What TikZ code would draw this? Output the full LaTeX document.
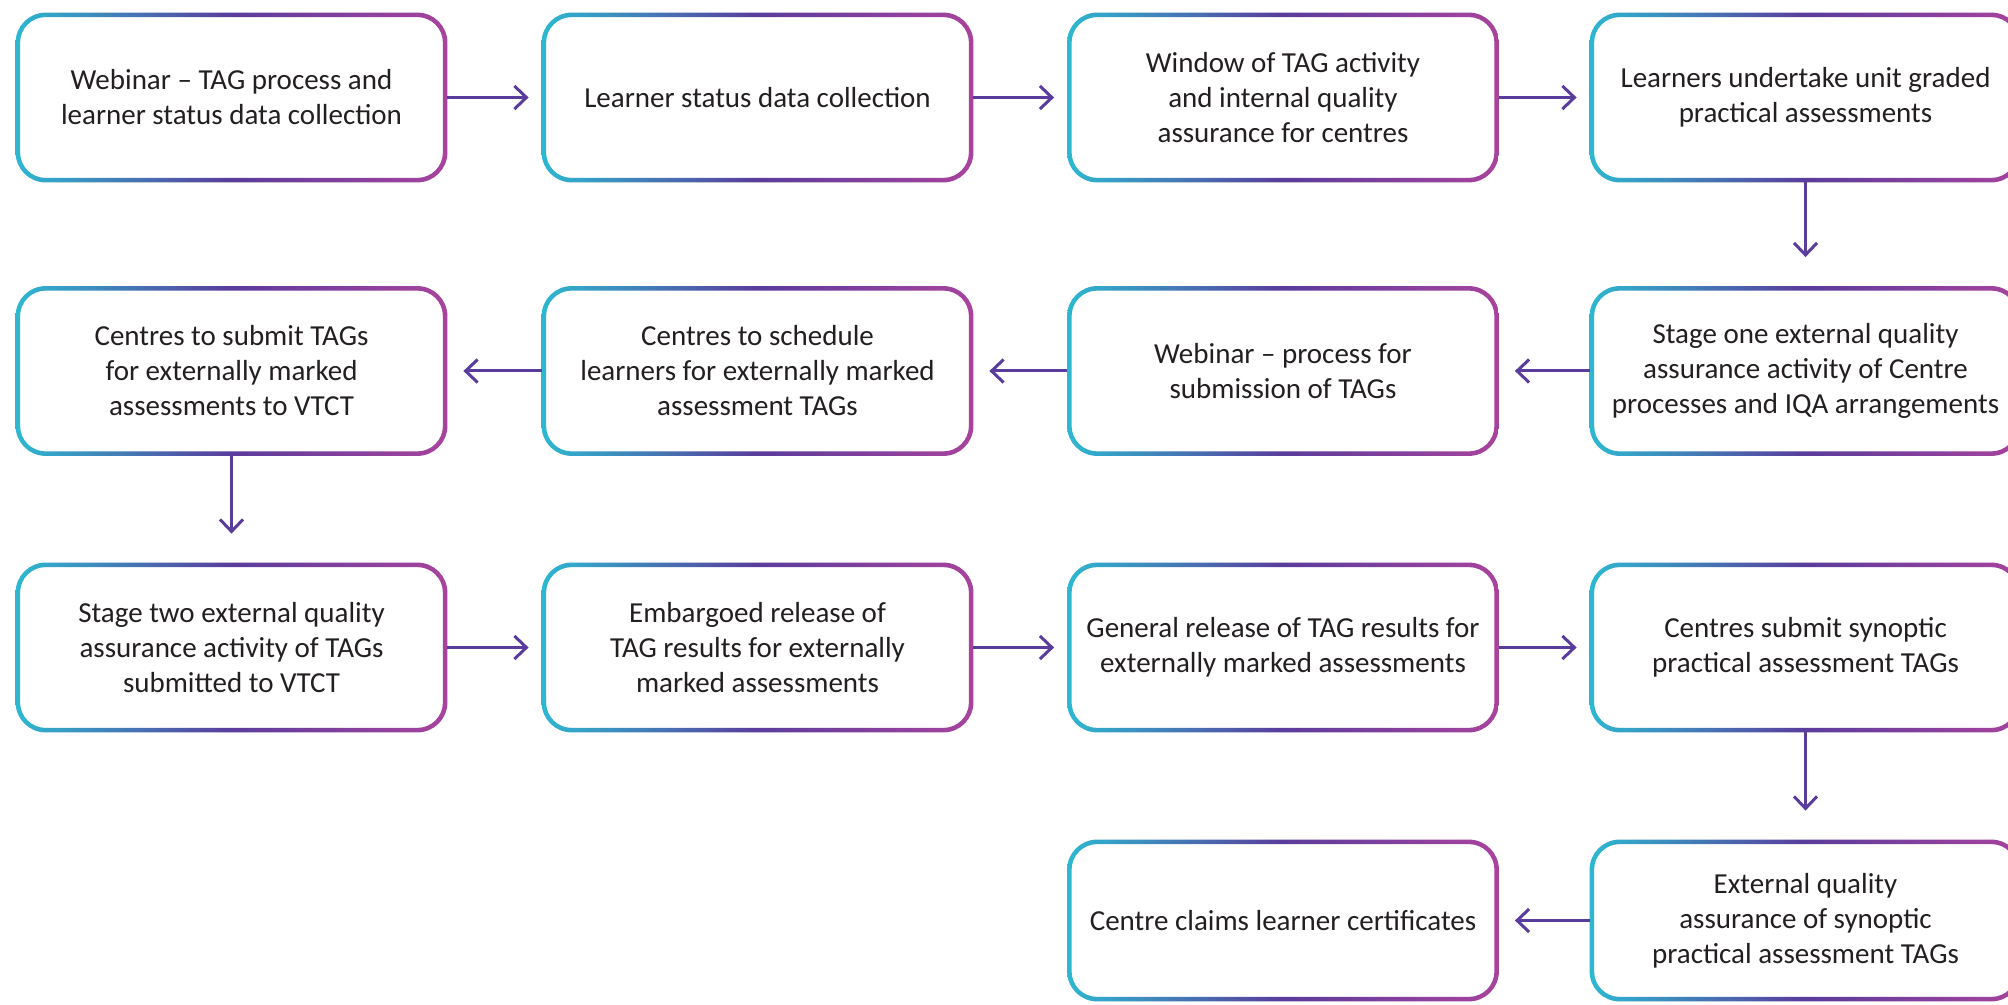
\documentclass[tikz,border=0pt]{standalone}
\usepackage{fontspec}
\setmainfont{Carlito}
\usetikzlibrary{arrows.meta,calc}
\definecolor{gcyan}{HTML}{2DB8D0}
\definecolor{gpurple}{HTML}{5A3C9C}
\definecolor{gmagenta}{HTML}{A8439D}
\definecolor{arrowc}{HTML}{5A3C9C}
\definecolor{txt}{HTML}{231F20}
\tikzset{
  stepbox/.style={inner sep=0pt, minimum width=215.5pt, minimum height=84.5pt,
    align=center, font=\fontsize{14.5pt}{17.5pt}\selectfont, text=txt},
  lastrow/.style={minimum height=80.5pt},
  flow/.style={draw=arrowc, line width=1.5pt, -{Straight Barb[length=6pt,width=11.5pt]}},
  fwd/.style={flow, shorten >=6.5pt},
  back/.style={flow, shorten >=8pt},
  down/.style={flow, shorten >=14.5pt},
  ringshade/.style={left color=gcyan, right color=gmagenta, middle color=gpurple, even odd rule}
}
\newcommand{\gradring}[1]{%
  \shade[ringshade] [rounded corners=15pt] (#1.south west) rectangle (#1.north east)
    [rounded corners=12.75pt] ($(#1.south west)+(4.5,-4.5)$) rectangle ($(#1.north east)+(-4.5,4.5)$);}
\begin{document}
\begin{tikzpicture}[x=0.5pt, y=-0.5pt]
\useasboundingbox (0,0) rectangle (2008,1005);
\fill[white] (0,0) rectangle (2008,1005);
\clip (0,0) rectangle (2008,1005);
% row 1
\node[stepbox] (b11) at (231.5,97.5) {Webinar -- TAG process and\\learner status data collection};
\node[stepbox] (b12) at (757.5,97.5) {Learner status data collection};
\node[stepbox] (b13) at (1283,97.5) {Window of TAG activity\\and internal quality\\assurance for centres};
\node[stepbox] (b14) at (1805.5,97.5) {Learners undertake unit graded\\practical assessments};
% row 2
\node[stepbox] (b21) at (231.5,371) {Centres to submit TAGs\\for externally marked\\assessments to VTCT};
\node[stepbox] (b22) at (757.5,371) {Centres to schedule\\learners for externally marked\\assessment TAGs};
\node[stepbox] (b23) at (1283,371) {Webinar -- process for\\submission of TAGs};
\node[stepbox] (b24) at (1805.5,371) {Stage one external quality\\assurance activity of Centre\\processes and IQA arrangements};
% row 3
\node[stepbox] (b31) at (231.5,647.5) {Stage two external quality\\assurance activity of TAGs\\submitted to VTCT};
\node[stepbox] (b32) at (757.5,647.5) {Embargoed release of\\TAG results for externally\\marked assessments};
\node[stepbox] (b33) at (1283,647.5) {General release of TAG results for\\externally marked assessments};
\node[stepbox] (b34) at (1805.5,647.5) {Centres submit synoptic\\practical assessment TAGs};
% row 4
\node[stepbox, lastrow] (b43) at (1283,920.5) {Centre claims learner certificates};
\node[stepbox, lastrow] (b44) at (1805.5,920.5) {External quality\\assurance of synoptic\\practical assessment TAGs};
% borders
\foreach \b in {b11,b12,b13,b14,b21,b22,b23,b24,b31,b32,b33,b34,b43,b44}{\gradring{\b}}
% connectors
\draw[fwd] (b11.east) -- (b12.west);
\draw[fwd] (b12.east) -- (b13.west);
\draw[fwd] (b13.east) -- (b14.west);
\draw[down] (b14.south) -- (b24.north);
\draw[back] (b24.west) -- (b23.east);
\draw[back] (b23.west) -- (b22.east);
\draw[back] (b22.west) -- (b21.east);
\draw[down] (b21.south) -- (b31.north);
\draw[fwd] (b31.east) -- (b32.west);
\draw[fwd] (b32.east) -- (b33.west);
\draw[fwd] (b33.east) -- (b34.west);
\draw[down] (b34.south) -- (b44.north);
\draw[back] (b44.west) -- (b43.east);
\end{tikzpicture}
\end{document}
